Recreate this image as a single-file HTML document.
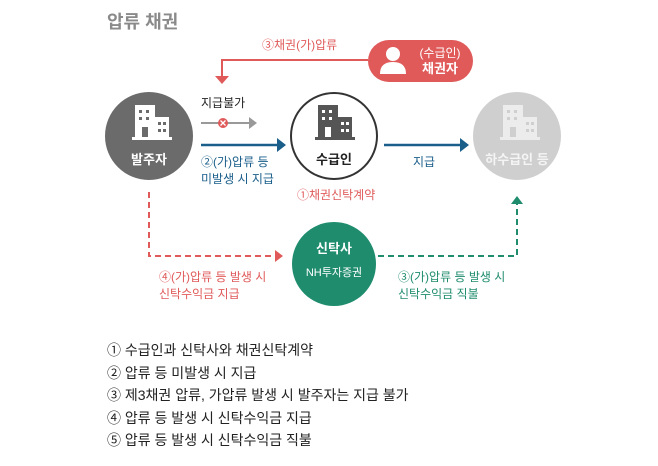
<!DOCTYPE html>
<html><head><meta charset="utf-8"><style>
body{margin:0;background:#fff;width:658px;height:466px;overflow:hidden;font-family:"Liberation Sans","Noto Sans CJK KR",sans-serif}
</style></head><body>
<svg width="658" height="466" style="position:absolute;left:0;top:0" font-family="Liberation Sans, Noto Sans CJK KR, sans-serif">
<defs>
<g id="bld"><rect x="0" y="0" width="20" height="32"/><rect x="20" y="12" width="14" height="20"/><rect x="-3" y="32" width="40" height="3"/></g>
<g id="win"><rect x="4" y="5" width="3" height="3"/><rect x="11" y="5" width="3" height="3"/><rect x="4" y="12" width="3" height="3"/><rect x="11" y="12" width="3" height="3"/><rect x="7" y="22" width="6" height="10"/><rect x="23" y="17" width="3" height="3"/><rect x="28" y="17" width="3" height="3"/><rect x="23" y="24" width="3" height="3"/><rect x="28" y="24" width="3" height="3"/></g>
</defs>
<text x="107" y="28" font-size="18" font-weight="bold" fill="#8a8a8a">압류 채권</text>
<rect x="368" y="40" width="105" height="42" rx="21" fill="#e05a5a"/>
<circle cx="393" cy="54" r="7" fill="#fff"/><path d="M380 74 Q380 62 393 62 Q406 62 406 74Z" fill="#fff"/>
<text x="440" y="57" font-size="12" fill="#fff" text-anchor="middle">(수급인)</text>
<text x="440" y="73" font-size="13" font-weight="bold" fill="#fff" text-anchor="middle">채권자</text>
<path d="M368 60 H222 V76" stroke="#e05a5a" stroke-width="2" fill="none"/>
<path d="M215 76 H229 L222 84Z" fill="#e05a5a"/>
<text x="262" y="49" font-size="12" fill="#e05a5a">③채권(가)압류</text>
<circle cx="149" cy="136" r="44" fill="#6b6b6b"/>
<g transform="translate(135,105)"><use href="#bld" fill="#fff"/><use href="#win" fill="#6b6b6b"/></g>
<text x="149" y="164" font-size="13" font-weight="bold" fill="#fff" text-anchor="middle">발주자</text>
<circle cx="334" cy="136" r="43" fill="#fff" stroke="#333" stroke-width="2"/>
<g transform="translate(318,105)"><use href="#bld" fill="#555"/><use href="#win" fill="#fff"/></g>
<text x="334" y="164" font-size="13" font-weight="bold" fill="#222" text-anchor="middle">수급인</text>
<circle cx="517" cy="136" r="44" fill="#cfcfcf"/>
<g transform="translate(503,105)"><use href="#bld" fill="#ececec"/><use href="#win" fill="#cfcfcf"/></g>
<text x="517" y="164" font-size="13" font-weight="bold" fill="#f4f4f4" text-anchor="middle">하수급인 등</text>
<circle cx="334" cy="264" r="42" fill="#1f8c6e"/>
<text x="334" y="253" font-size="13" font-weight="bold" fill="#fff" text-anchor="middle">신탁사</text>
<text x="334" y="276" font-size="11" fill="#fff" text-anchor="middle">NH투자증권</text>
<text x="201" y="107" font-size="12" fill="#222">지급불가</text>
<path d="M201 123 H250" stroke="#999" stroke-width="2"/><path d="M249 117 L257 123 L249 129Z" fill="#999"/>
<circle cx="223" cy="123" r="5" fill="#e05a5a"/><path d="M220.5 120.5 L225.5 125.5 M225.5 120.5 L220.5 125.5" stroke="#fff" stroke-width="1.3"/>
<path d="M201 145 H278" stroke="#1a5e8a" stroke-width="2.5"/><path d="M277 138 L286 145 L277 152Z" fill="#1a5e8a"/>
<text x="201" y="166" font-size="12" fill="#1a5e8a">②(가)압류 등</text>
<text x="201" y="183" font-size="12" fill="#1a5e8a">미발생 시 지급</text>
<path d="M384 145 H461" stroke="#1a5e8a" stroke-width="2.5"/><path d="M460 138 L469 145 L460 152Z" fill="#1a5e8a"/>
<text x="413" y="166" font-size="12" fill="#1a5e8a">지급</text>
<text x="297" y="199" font-size="12" fill="#e05a5a">①채권신탁계약</text>
<path d="M149 192 V256 H276" stroke="#e05a5a" stroke-width="2" stroke-dasharray="6,4" fill="none"/>
<path d="M275 250 L283 256 L275 262Z" fill="#e05a5a"/>
<text x="159" y="281" font-size="12" fill="#e05a5a">④(가)압류 등 발생 시</text>
<text x="159" y="298" font-size="12" fill="#e05a5a">신탁수익금 지급</text>
<path d="M378 256 H517 V202" stroke="#1f8c6e" stroke-width="2" stroke-dasharray="6,4" fill="none"/>
<path d="M511 204 L517 196 L523 204Z" fill="#1f8c6e"/>
<text x="398" y="281" font-size="12" fill="#1f8c6e">③(가)압류 등 발생 시</text>
<text x="398" y="298" font-size="12" fill="#1f8c6e">신탁수익금 직불</text>
<g font-size="14" fill="#222">
<text x="107" y="355">① 수급인과 신탁사와 채권신탁계약</text>
<text x="107" y="378">② 압류 등 미발생 시 지급</text>
<text x="107" y="400">③ 제3채권 압류, 가압류 발생 시 발주자는 지급 불가</text>
<text x="107" y="423">④ 압류 등 발생 시 신탁수익금 지급</text>
<text x="107" y="445">⑤ 압류 등 발생 시 신탁수익금 직불</text>
</g>
</svg>
</body></html>
